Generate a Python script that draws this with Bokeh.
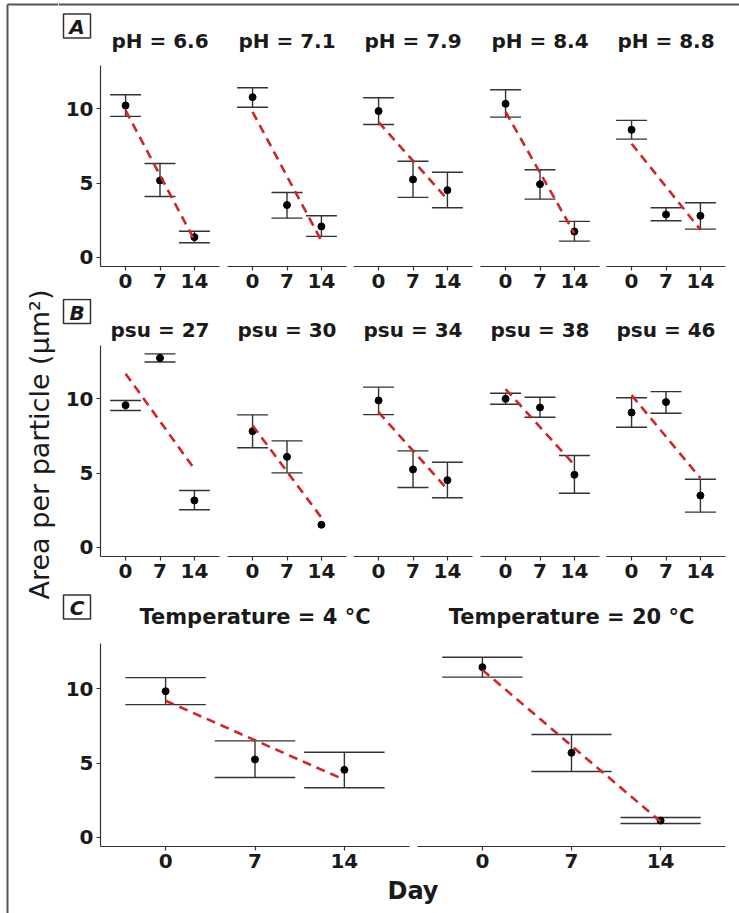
import math
from bokeh.plotting import figure
from bokeh.layouts import row, column
from bokeh.models import Range1d, FixedTicker, ColumnDataSource
from bokeh.core.properties import value
from bokeh.embed import file_html
from bokeh.resources import INLINE

NA = float("nan")

# ---------------- data ----------------
days = [0, 7, 14]
y_ticks = [0, 5, 10]
y_label = "Area per particle (μm²)"
x_label = "Day"
row_letters = ["A", "B", "C"]

# Row A: pH
ph_titles = ["pH = 6.6", "pH = 7.1", "pH = 7.9", "pH = 8.4", "pH = 8.8"]
ph_mean = [[10.23, 5.17, 1.35], [10.79, 3.51, 2.07], [9.85, 5.24, 4.52],
           [10.34, 4.92, 1.73], [8.59, 2.88, 2.79]]
ph_lo = [[9.49, 4.09, 0.97], [10.11, 2.63, 1.40], [8.95, 4.03, 3.33],
         [9.44, 3.91, 1.08], [7.96, 2.45, 1.89]]
ph_hi = [[10.95, 6.32, 1.75], [11.42, 4.36, 2.79], [10.75, 6.47, 5.73],
         [11.29, 5.89, 2.41], [9.22, 3.33, 3.67]]
ph_fit_start = [9.9, 9.8, 9.1, 9.8, 7.65]
ph_fit_end = [1.15, 1.1, 3.9, 1.6, 1.85]

# Row B: salinity
psu_titles = ["psu = 27", "psu = 30", "psu = 34", "psu = 38", "psu = 46"]
psu_mean = [[9.57, 12.76, 3.15], [7.82, 6.09, 1.51], [9.89, 5.24, 4.52],
            [10.0, 9.42, 4.88], [9.08, 9.78, 3.48]]
psu_lo = [[9.21, 12.49, 2.52], [6.70, 5.01, NA], [8.94, 4.02, 3.33],
          [9.64, 8.76, 3.64], [8.09, 9.03, 2.36]]
psu_hi = [[9.89, 13.03, 3.82], [8.92, 7.17, NA], [10.79, 6.49, 5.73],
          [10.38, 10.11, 6.18], [10.07, 10.49, 4.58]]
psu_fit_start = [11.7, 8.2, 9.1, 10.66, 10.25]
psu_fit_end = [5.27, 1.99, 3.9, 5.54, 4.65]

# Row C: temperature
temp_titles = ["Temperature = 4 °C", "Temperature = 20 °C"]
temp_mean = [[9.84, 5.24, 4.54], [11.46, 5.69, 1.12]]
temp_lo = [[8.94, 4.02, 3.33], [10.79, 4.43, 0.92]]
temp_hi = [[10.76, 6.49, 5.73], [12.13, 6.92, 1.33]]
temp_fit_start = [9.2, 11.28]
temp_fit_end = [3.87, 1.05]

# ---------------- style / layout ----------------
FONT = "DejaVu Sans"
INK = "#1a1a1a"
AXIS = "#333333"
BORDER = "#555555"
RED = "#CD2626"
CAP = 3.15            # half width of error-bar caps (days)
XR = (-5.1, 19.1)

LEFT_W = 58
MAIN_W = 681
FIG1_LEFT = 42
TOP, BOT = 3, 32


def canvas(w, h):
    p = figure(width=w, height=h, x_range=Range1d(0, w), y_range=Range1d(h, 0),
               output_backend="svg", toolbar_location=None,
               x_axis_location=None, y_axis_location=None, title=None,
               min_border_left=0, min_border_right=0, min_border_top=0, min_border_bottom=0)
    p.grid.visible = False
    p.outline_line_color = None
    return p


def style_axis(ax):
    ax.axis_line_color = AXIS
    ax.axis_line_width = 1.2
    ax.major_tick_line_color = AXIS
    ax.major_tick_line_width = 1.2
    ax.major_tick_out = 4
    ax.major_tick_in = 0
    ax.minor_tick_out = 0
    ax.minor_tick_in = 0
    ax.major_label_text_font = FONT
    ax.major_label_text_font_style = "bold"
    ax.major_label_text_font_size = "20px"
    ax.major_label_text_color = INK
    ax.major_label_standoff = 3


def panel(width, height, left, right, yr, mean, lo, hi, f0, f1, show_y):
    p = figure(width=width, height=height, x_range=Range1d(*XR), y_range=Range1d(*yr),
               output_backend="svg", toolbar_location=None, title=None,
               y_axis_location="left" if show_y else None,
               min_border_left=left, min_border_right=right,
               min_border_top=TOP, min_border_bottom=BOT)
    p.grid.visible = False
    p.outline_line_color = None
    src = ColumnDataSource(dict(day=days, mean=mean, lo=lo, hi=hi,
                                c0=[d - CAP for d in days], c1=[d + CAP for d in days]))
    p.segment(x0="day", y0="lo", x1="day", y1="hi", source=src, line_color=AXIS, line_width=1.4)
    p.segment(x0="c0", y0="lo", x1="c1", y1="lo", source=src, line_color=AXIS, line_width=1.4)
    p.segment(x0="c0", y0="hi", x1="c1", y1="hi", source=src, line_color=AXIS, line_width=1.4)
    p.scatter(x="day", y="mean", source=src, size=7, color="black")
    p.line(x=[days[0], days[-1]], y=[f0, f1], line_color=RED, line_width=2.6, line_dash="9 6")
    xa = p.xaxis[0]
    xa.ticker = FixedTicker(ticks=days)
    style_axis(xa)
    if show_y:
        ya = p.yaxis[0]
        ya.ticker = FixedTicker(ticks=y_ticks)
        style_axis(ya)
    return p


def header(h, letter, box_y, titles, centers, base_y, size, top_line=False):
    p = canvas(MAIN_W, h)
    if top_line:
        p.segment(x0=[0], y0=[4], x1=[MAIN_W], y1=[4], line_color=BORDER, line_width=2)
    p.rect(x=[18.5], y=[box_y], width=27, height=24, fill_color="white",
           line_color=AXIS, line_width=1.5)
    p.text(x=[18.5], y=[box_y + 1], text=[letter], text_align="center", text_baseline="middle",
           text_font=value(FONT), text_font_style="bold italic", text_font_size="20px",
           text_color=INK)
    p.text(x=centers, y=[base_y] * len(centers), text=titles, text_align="center",
           text_baseline="alphabetic", text_font=value(FONT), text_font_style="bold",
           text_font_size=size, text_color=INK)
    return p


# five-panel rows: frame width 119, right borders
fw5 = 119
rb5 = [8, 7, 8, 7, 14]
lb5 = [FIG1_LEFT, 0, 0, 0, 0]
w5 = [lb5[i] + fw5 + rb5[i] for i in range(5)]
lefts5 = []
acc = 0
for i in range(5):
    lefts5.append(acc + lb5[i])
    acc += w5[i]
centers5 = [l + fw5 / 2 for l in lefts5]

fw2 = [309, 308]
rb2 = [8, 14]
lb2 = [FIG1_LEFT, 0]
w2 = [lb2[i] + fw2[i] + rb2[i] for i in range(2)]
lefts2 = [lb2[0], w2[0]]
centers2 = [lefts2[i] + fw2[i] / 2 for i in range(2)]

hA, hB, hC = 201, 211, 203
PXU = 14.83
yrA = (-0.63, -0.63 + hA / PXU)
yrB = (-0.63, -0.63 + hB / PXU)
yrC = (-0.63, -0.63 + hC / PXU)

headA = header(62, row_letters[0], 25.5, ph_titles, centers5, 40, "20px", top_line=True)
rowA = row(*[panel(w5[i], TOP + hA + BOT, lb5[i], rb5[i], yrA, ph_mean[i], ph_lo[i], ph_hi[i],
                   ph_fit_start[i], ph_fit_end[i], i == 0) for i in range(5)])
headB = header(44, row_letters[1], 13, psu_titles, centers5, 31, "20px")
rowB = row(*[panel(w5[i], TOP + hB + BOT, lb5[i], rb5[i], yrB, psu_mean[i], psu_lo[i], psu_hi[i],
                   psu_fit_start[i], psu_fit_end[i], i == 0) for i in range(5)])
headC = header(52, row_letters[2], 18.5, temp_titles, centers2, 28, "21px")
rowC = row(*[panel(w2[i], TOP + hC + BOT, lb2[i], rb2[i], yrC, temp_mean[i], temp_lo[i], temp_hi[i],
                   temp_fit_start[i], temp_fit_end[i], i == 0) for i in range(2)])

day_fig = canvas(MAIN_W, 35)
day_fig.text(x=[(lefts5[0] + lefts5[4] + fw5) / 2], y=[12], text=[x_label], text_align="center",
             text_baseline="alphabetic", text_font=value(FONT), text_font_style="bold",
             text_font_size="24px", text_color=INK)

total_h = 62 + (TOP + hA + BOT) + 44 + (TOP + hB + BOT) + 52 + (TOP + hC + BOT) + 35
ylab = canvas(LEFT_W, total_h)
ylab.segment(x0=[7, 7], y0=[4, 4], x1=[7, LEFT_W], y1=[total_h, 4], line_color=BORDER, line_width=2)
ylab.text(x=[39], y=[444], text=[y_label], angle=math.pi / 2, text_align="center",
          text_baseline="alphabetic", text_font=value(FONT), text_font_size="27px",
          text_color=INK)

main = column(headA, rowA, headB, rowB, headC, rowC, day_fig, spacing=0)
layout = row(ylab, main, spacing=0)

open("out.html", "w").write(file_html(layout, INLINE))
